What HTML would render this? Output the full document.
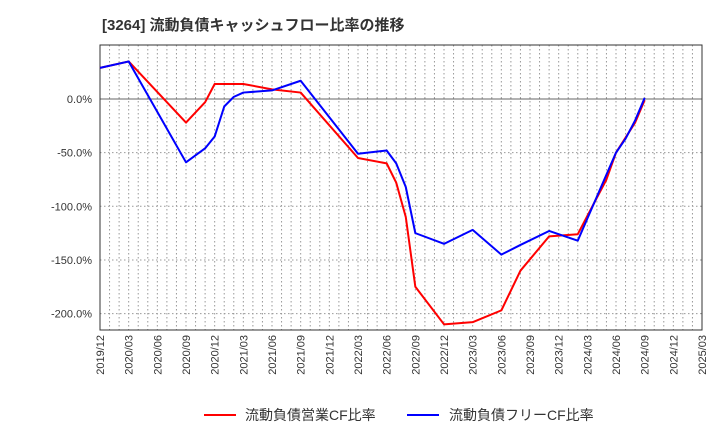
<!DOCTYPE html>
<html><head><meta charset="utf-8"><style>
body{margin:0;background:#fff;font-family:"Liberation Sans","Noto Sans CJK JP",sans-serif;}
</style></head><body>
<svg id="c" width="720" height="440" xmlns="http://www.w3.org/2000/svg" style="font-family:'Liberation Sans','Noto Sans CJK JP',sans-serif">
<text x="102" y="30" font-size="15" font-weight="bold" fill="#333">[3264]  流動負債キャッシュフロー比率の推移</text>
<g id="grid"></g><g id="axes"></g><g id="series"></g>
<g>
<line x1="204" y1="415" x2="236" y2="415" stroke="#f00" stroke-width="2"/>
<text x="245" y="420" font-size="14" fill="#333">流動負債営業CF比率</text>
<line x1="407" y1="415" x2="439" y2="415" stroke="#00f" stroke-width="2"/>
<text x="449" y="420" font-size="14" fill="#333">流動負債フリーCF比率</text>
</g>
</svg>
<script>
const xLabels=["2019/12","2020/03","2020/06","2020/09","2020/12","2021/03","2021/06","2021/09","2021/12","2022/03","2022/06","2022/09","2022/12","2023/03","2023/06","2023/09","2023/12","2024/03","2024/06","2024/09","2024/12","2025/03"];
const yTicks=[0,-50,-100,-150,-200];
const redMonths=[0,3,9,11,12,15,18,21,27,30,31,32,33,36,39,42,44,47,50,53,54,56,57];
const redVals=[29,35,-22,-3,14,14,9,6,-55,-60,-78,-110,-175,-210,-208,-197,-160,-128,-126,-75,-50,-22,-1];
const blueMonths=[0,3,9,11,12,13,14,15,18,21,27,30,31,32,33,36,39,42,44,47,50,54,55,56,57];
const blueVals=[29,35,-59,-46,-35,-7,2,6,8,17,-51,-48,-60,-82,-125,-135,-122,-145,-136,-123,-132,-50,-37,-20,1];
const L=100,R=702,T=45,B=330;
const xs=m=>L+m*(R-L)/63;
const ys=v=>99-v*1.073;
const NS="http://www.w3.org/2000/svg";
function mk(t,a,p){const e=document.createElementNS(NS,t);for(const k in a)e.setAttribute(k,a[k]);p.appendChild(e);return e;}
const g=document.getElementById('grid'),ax=document.getElementById('axes'),s=document.getElementById('series');
for(let m=1;m<63;m++){
const l=mk('line',{x1:xs(m),x2:xs(m),y1:T,y2:B,stroke:'#999','stroke-dasharray':'1.5,2.5','stroke-width':1},g);


}
for(let v=0;v>=-200;v-=50){
const y=ys(v);
const l=mk('line',{x1:L,x2:R,y1:y,y2:y,stroke:v===0?'#666':'#999','stroke-dasharray':v===0?'':'1.5,2.5','stroke-width':1},g);


}
yTicks.forEach(v=>{
const t=mk('text',{x:L-8,y:ys(v)+4,'text-anchor':'end','font-size':11,fill:'#333'},ax);
t.textContent=v.toFixed(1)+'%';


});
xLabels.forEach((lab,i)=>{
const x=xs(i*3);
const t=mk('text',{x:0,y:0,transform:`translate(${x+4},${B+5}) rotate(-90)`,'text-anchor':'end','font-size':11,fill:'#333'},ax);
t.textContent=lab;


});
const fr=mk('rect',{x:L,y:T,width:R-L,height:B-T,fill:'none',stroke:'#333','stroke-width':1},ax);


function line(ms,vs,c,n){
const p=mk('polyline',{points:ms.map((m,i)=>xs(m)+','+ys(vs[i])).join(' '),fill:'none',stroke:c,'stroke-width':2,'stroke-linejoin':'round'},s);


}
line(redMonths,redVals,'#f00','operating-cf-ratio-line');
line(blueMonths,blueVals,'#00f','free-cf-ratio-line');
</script>
</body></html>
